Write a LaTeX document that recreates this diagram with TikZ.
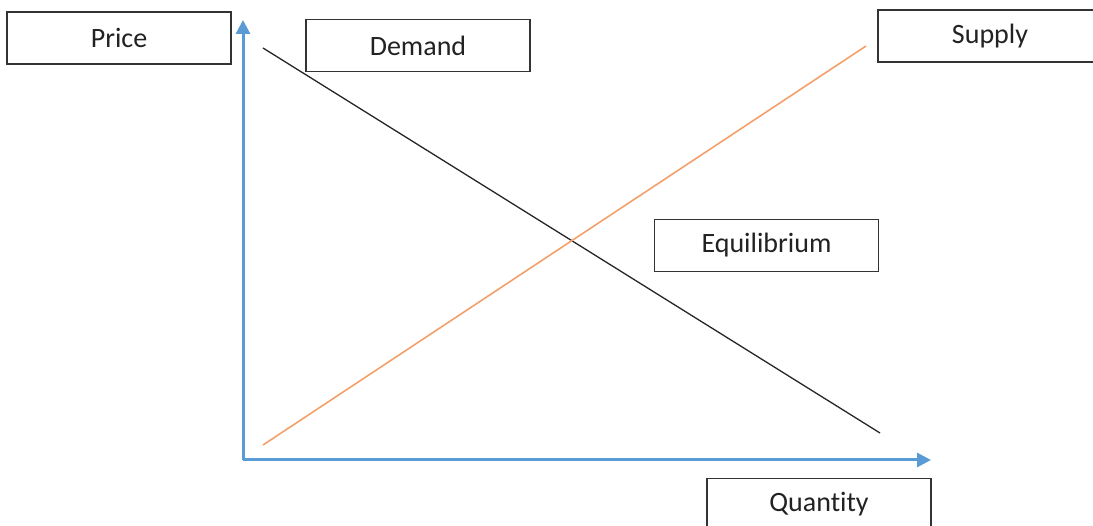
\documentclass[tikz,border=0pt]{standalone}
\usepackage{fontspec}
\setmainfont{Carlito}[Ligatures=NoCommon]
\usetikzlibrary{arrows.meta}
\definecolor{axisblue}{HTML}{5B9BD5}
\definecolor{supplyorange}{HTML}{F4A06A}
\definecolor{boxgray}{HTML}{333333}
\definecolor{textgray}{HTML}{222222}
\begin{document}
\begin{tikzpicture}[x=1pt,y=-1pt,
  labelbox/.style={draw=boxgray,line width=1.8pt,fill=white,
    minimum width=224pt,minimum height=52pt,inner sep=0pt,
    text=textgray,font=\fontsize{28}{32}\selectfont},
  axisline/.style={draw=axisblue,line width=3pt,
    -{Triangle[length=14pt,width=14pt]}},
  demandline/.style={draw=black!85,line width=1.3pt},
  supplyline/.style={draw=supplyorange,line width=1.6pt}]
\useasboundingbox (0,0) rectangle (1093,526);
% axes
\coordinate (origin) at (243,460);
\coordinate (ytip) at (243,20);
\coordinate (xtip) at (931,460);
\draw[axisline] (origin) -- (ytip);
\draw[axisline] (origin) -- (xtip);
% curves
\coordinate (d1) at (263,48);
\coordinate (d2) at (880,433);
\coordinate (s1) at (263,445);
\coordinate (s2) at (866,46);
\draw[demandline] (d1) -- (d2);
\draw[supplyline] (s1) -- (s2);
% labels
\node[labelbox] (price) at (119,38) {\raisebox{-2pt}{Price}};
\node[labelbox] (demand) at (418,45.5) {\raisebox{-2pt}{Demand}};
\node[labelbox] (supply) at (990,36) {\raisebox{-2pt}{Supply}};
\node[labelbox] (equil) at (766.5,245.5) {\raisebox{-1pt}{Equilibrium}};
\node[labelbox] (quantity) at (819,504.5) {\raisebox{-2pt}{Quantity}};
\end{tikzpicture}
\end{document}
